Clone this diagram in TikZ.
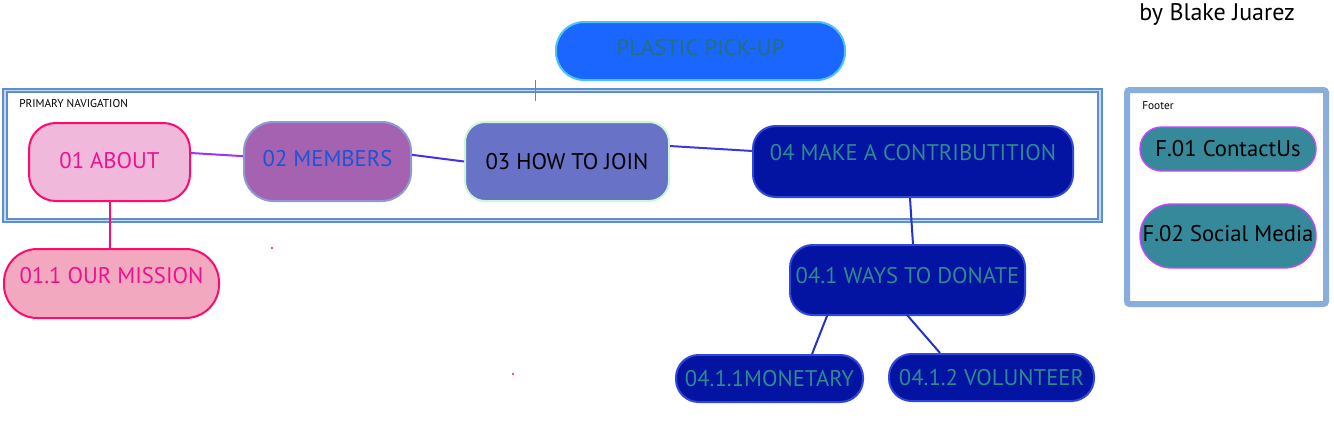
\documentclass[tikz,border=0pt]{standalone}
\usepackage{fontspec}
\setmainfont{PT Sans}
\usetikzlibrary{backgrounds}
\definecolor{titlefill}{HTML}{1A66FF}
\definecolor{titledraw}{HTML}{4DC3F0}
\definecolor{titletxt}{HTML}{24707A}
\definecolor{tealtxt}{HTML}{2E8A8E}
\definecolor{aboutfill}{HTML}{F0B8DB}
\definecolor{pinkdraw}{HTML}{FF0A6E}
\definecolor{pinktxt}{HTML}{EE1192}
\definecolor{missionfill}{HTML}{F2A8BE}
\definecolor{memfill}{HTML}{A462B0}
\definecolor{memdraw}{HTML}{8E9BD3}
\definecolor{memtxt}{HTML}{1A55D6}
\definecolor{howfill}{HTML}{6872C6}
\definecolor{howdraw}{HTML}{CCF7D3}
\definecolor{navyfill}{HTML}{0313A2}
\definecolor{navydraw}{HTML}{3246D9}
\definecolor{navbox}{HTML}{5C8FD0}
\definecolor{navboxin}{HTML}{C8DAF0}
\definecolor{footbox}{HTML}{8AAEDB}
\definecolor{footfill}{HTML}{36889B}
\definecolor{footdraw}{HTML}{CC44FF}
\definecolor{lnpurple}{HTML}{9933FF}
\definecolor{lnviolet}{HTML}{4A2FE8}
\definecolor{lnblue}{HTML}{3A3AE0}
\definecolor{lnnavy}{HTML}{2233CC}
\newcommand\myfs[1]{\fontsize{#1}{#1}\selectfont}
\begin{document}
\begin{tikzpicture}[x=0.75pt,y=-0.75pt,
  nd/.style={draw, line width=1.5pt, inner sep=0pt, align=center,
    font=\myfs{17pt}, text height=11.9pt, text depth=0pt},
  ln/.style={line width=1.5pt},
  small/.style={font=\myfs{8.5pt}, inner sep=0pt, anchor=west}]
\useasboundingbox (0,0) rectangle (1334,421);
\fill[white] (0,0) rectangle (1334,421);

% boxes
\draw[navbox, line width=1.4pt, double=navboxin, double distance=1.4pt] (5,90.5) rectangle (1100,220.5);
\draw[footbox, line width=4.5pt, rounded corners=2pt] (1127,90) rectangle (1326,304);
\draw[gray, line width=0.4pt] (535,80) -- (535,101);

% nodes
\node[nd, fill=titlefill, draw=titledraw, text=titletxt, rounded corners=21pt,
  minimum width=216.75pt, minimum height=43.5pt, text depth=4.5pt] (title) at (700.5,51) {PLASTIC PICK-UP};
\node[small] (navlbl) at (19,103.5) {PRIMARY NAVIGATION};
\node[small] (footlbl) at (1142,106) {Footer};
\node[font=\myfs{18pt}, inner sep=0pt, anchor=west] (author) at (1139,14) {by Blake Juarez};

\node[nd, fill=aboutfill, draw=pinkdraw, text=pinktxt, rounded corners=20pt,
  minimum width=120.75pt, minimum height=58.5pt, text depth=1.5pt] (about) at (109.5,162) {01 ABOUT};
\node[nd, fill=memfill, draw=memdraw, text=memtxt, rounded corners=22pt,
  minimum width=125.25pt, minimum height=59.25pt, text depth=3.75pt] (members) at (327.5,161.5) {02 MEMBERS};
\node[nd, fill=howfill, draw=howdraw, text=black, rounded corners=15pt,
  minimum width=153pt, minimum height=59.25pt] (how) at (567,161.5) {03 HOW TO JOIN};
\node[nd, fill=navyfill, draw=navydraw, text=tealtxt, rounded corners=17pt,
  minimum width=240pt, minimum height=53.25pt, text depth=12.75pt] (contrib) at (913,161.5) {04 MAKE A CONTRIBUTITION};
\node[nd, fill=missionfill, draw=pinkdraw, text=pinktxt, rounded corners=25pt,
  minimum width=161.25pt, minimum height=51.75pt, text depth=11.25pt] (mission) at (111.5,283.5) {01.1 OUR MISSION};
\node[nd, fill=navyfill, draw=navydraw, text=tealtxt, rounded corners=17pt,
  minimum width=176.25pt, minimum height=52.5pt, text depth=6pt] (ways) at (907.5,280) {04.1 WAYS TO DONATE};
\node[nd, fill=navyfill, draw=navydraw, text=tealtxt, rounded corners=17pt,
  minimum width=140.25pt, minimum height=35.25pt] (monetary) at (769.5,378.5) {04.1.1MONETARY};
\node[nd, fill=navyfill, draw=navydraw, text=tealtxt, rounded corners=17pt,
  minimum width=153.75pt, minimum height=35.25pt] (volunteer) at (991.5,377.5) {04.1.2 VOLUNTEER};
\node[nd, fill=footfill, draw=footdraw, text=black, rounded corners=16pt, line width=1pt,
  minimum width=132pt, minimum height=33pt] (f01) at (1228,149) {F.01 ContactUs};
\node[nd, fill=footfill, draw=footdraw, text=black, rounded corners=23.5pt, line width=1pt,
  minimum width=132pt, minimum height=48pt, text depth=3pt] (f02) at (1228,236) {F.02 Social Media};

% connectors
\draw[ln, lnpurple] ([yshift=6.75pt]about.east) -- ([yshift=4pt]members.west);
\draw[ln, lnviolet] ([yshift=5pt]members.east) -- (how.west);
\draw[ln, lnblue] ([yshift=11.6pt]how.east) -- ([yshift=7.9pt]contrib.west);
\draw[ln, pinkdraw] (about.south) -- (about.south |- mission.north);
\draw[ln, lnnavy] ([xshift=-2.25pt]contrib.south) -- ([xshift=4.1pt]ways.north);
\draw[ln, lnnavy] ([xshift=-59.6pt,yshift=2pt]ways.south) -- ([xshift=31.9pt]monetary.north);
\draw[ln, lnnavy] ([xshift=-1pt,yshift=1.5pt]ways.south) -- ([xshift=-38.6pt]volunteer.north);

% stray marks
\fill[pinkdraw] (272,248) circle (0.8pt);
\fill[pinkdraw] (513,374) circle (0.8pt);
\end{tikzpicture}
\end{document}
